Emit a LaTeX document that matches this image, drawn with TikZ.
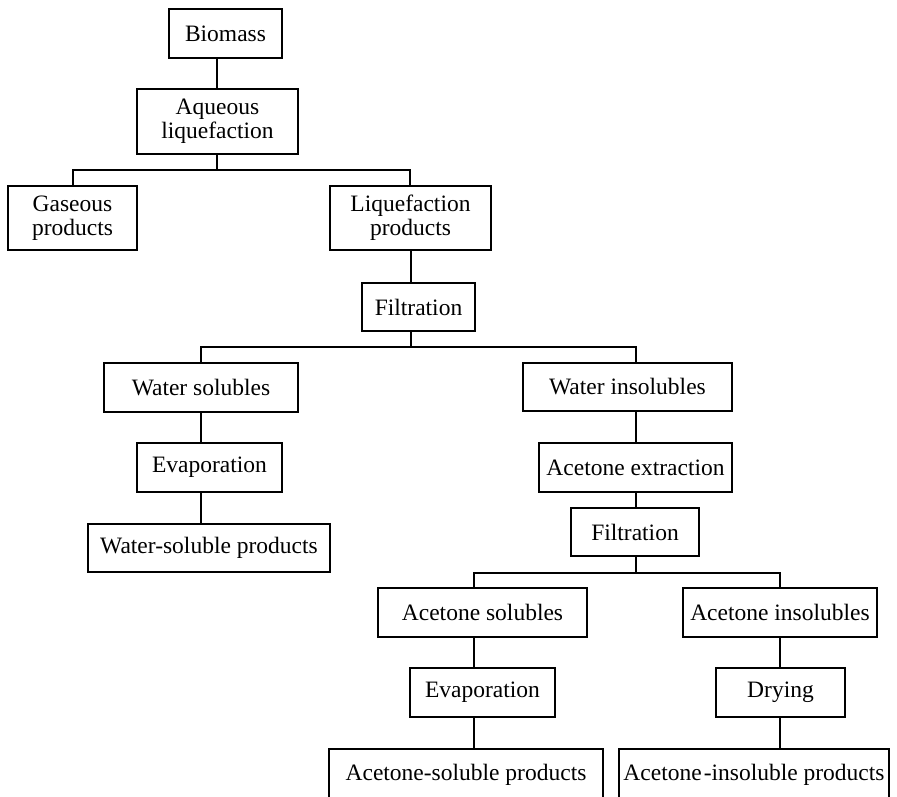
\documentclass[tikz,border=0pt]{standalone}
\usepackage{fontspec}
\setmainfont{Liberation Serif}
\begin{document}
\begin{tikzpicture}[x=1pt,y=-1pt,
  boxs/.style={draw, line width=1.2pt, rectangle, inner sep=0pt, align=center,
    font=\fontsize{23.5}{24}\selectfont},
  conn/.style={line width=1.2pt}]
\useasboundingbox (0,0) rectangle (897,796);
\clip (0,0) rectangle (897,796);
% boxes
\node[boxs, minimum width=113pt, minimum height=49pt] (biomass) at (225.5,33.5) {Biomass};
\node[boxs, minimum width=161pt, minimum height=65pt] (aqueous) at (217.5,121.5) {Aqueous\\liquefaction};
\node[boxs, minimum width=129pt, minimum height=64pt] (gaseous) at (72.5,218) {Gaseous\\products};
\node[boxs, minimum width=161pt, minimum height=64pt] (liqprod) at (410.5,218) {Liquefaction\\products};
\node[boxs, minimum width=113pt, minimum height=48pt] (filt1) at (418.5,307) {Filtration};
\node[boxs, minimum width=194pt, minimum height=49pt] (watsol) at (201,387.5) {Water solubles};
\node[boxs, minimum width=209pt, minimum height=48pt] (watins) at (627.5,387) {Water insolubles};
\node[boxs, minimum width=145pt, minimum height=49pt] (evap1) at (209.5,467.5) {Evaporation};
\node[boxs, minimum width=193pt, minimum height=49pt] (acext) at (635.5,467.5) {Acetone extraction};
\node[boxs, minimum width=242pt, minimum height=48pt] (wsprod) at (209,548) {Water-soluble products};
\node[boxs, minimum width=128pt, minimum height=48pt] (filt2) at (635,532) {Filtration};
\node[boxs, minimum width=209pt, minimum height=49pt] (acsol) at (482.5,612.5) {Acetone solubles};
\node[boxs, minimum width=194pt, minimum height=49pt] (acins) at (780,612.5) {Acetone insolubles};
\node[boxs, minimum width=145pt, minimum height=49pt] (evap2) at (482.5,692.5) {Evaporation};
\node[boxs, minimum width=129pt, minimum height=49pt] (drying) at (780.5,692.5) {Drying};
\node[boxs, minimum width=274pt, minimum height=52pt] (asprod) at (466,775) {Acetone-soluble products};
\node[boxs, minimum width=270pt, minimum height=52pt] (aiprod) at (754,775) {Acetone\kern2pt-insoluble products};
% connector coordinates
\coordinate (c1) at (217,0);
\coordinate (j1) at (217,170);
\coordinate (jl1) at (73,170);
\coordinate (jr1) at (410,170);
\coordinate (c2) at (411,0);
\coordinate (j2) at (411,347);
\coordinate (jl2) at (201,347);
\coordinate (jr2) at (636,347);
\coordinate (j3) at (636,573);
\coordinate (jl3) at (474,573);
\coordinate (jr3) at (780,573);
% connectors
\draw[conn] (biomass.south -| c1) -- (aqueous.north -| c1);
\draw[conn] (aqueous.south -| j1) -- (j1);
\draw[conn] (gaseous.north -| jl1) -- (jl1) -- (jr1) -- (liqprod.north -| jr1);
\draw[conn] (liqprod.south -| c2) -- (filt1.north -| c2);
\draw[conn] (filt1.south -| j2) -- (j2);
\draw[conn] (watsol.north -| jl2) -- (jl2) -- (jr2) -- (watins.north -| jr2);
\draw[conn] (watsol.south -| jl2) -- (evap1.north -| jl2);
\draw[conn] (evap1.south -| jl2) -- (wsprod.north -| jl2);
\draw[conn] (watins.south -| jr2) -- (acext.north -| jr2);
\draw[conn] (acext.south -| jr2) -- (filt2.north -| jr2);
\draw[conn] (filt2.south -| j3) -- (j3);
\draw[conn] (acsol.north -| jl3) -- (jl3) -- (jr3) -- (acins.north -| jr3);
\draw[conn] (acsol.south -| jl3) -- (evap2.north -| jl3);
\draw[conn] (evap2.south -| jl3) -- (asprod.north -| jl3);
\draw[conn] (acins.south -| jr3) -- (drying.north -| jr3);
\draw[conn] (drying.south -| jr3) -- (aiprod.north -| jr3);
\end{tikzpicture}
\end{document}
